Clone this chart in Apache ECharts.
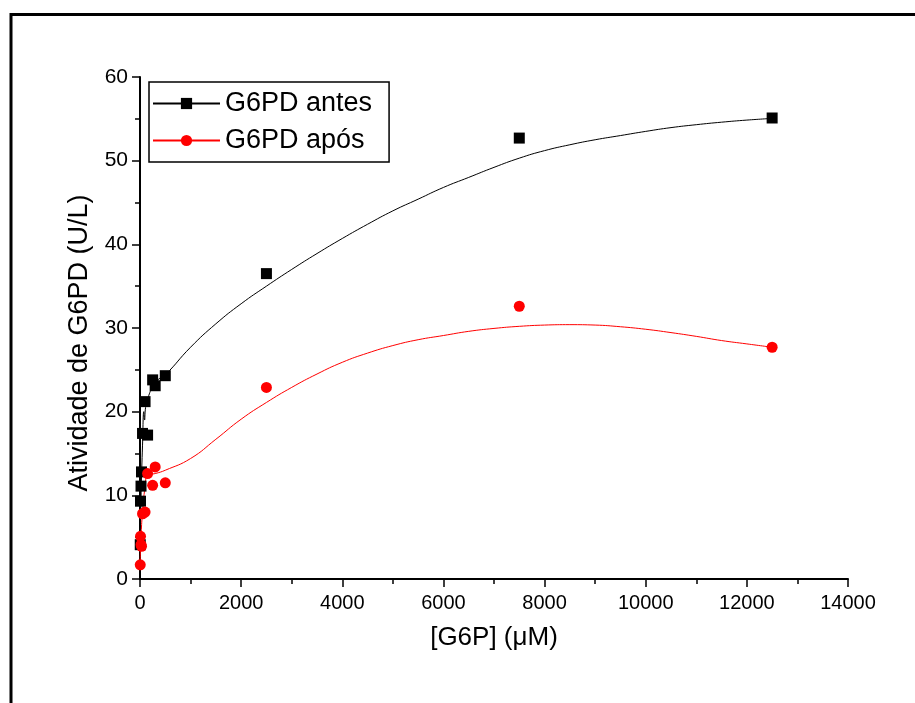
<!DOCTYPE html>
<html>
<head>
<meta charset="utf-8">
<script src="https://cdn.jsdelivr.net/npm/echarts@6/dist/echarts.min.js"></script>
<style>
html,body{margin:0;padding:0;background:#fff;}
#chart{width:915px;height:703px;}
</style>
</head>
<body>
<div id="chart"></div>
<script>
// Measured points
const concX = [5, 10, 20, 30, 50, 100, 150, 250, 300, 500, 2500, 7500, 12500];
const antesY = [4.1, 9.3, 11.1, 12.8, 17.4, 21.2, 17.2, 23.8, 23.1, 24.3, 36.5, 52.7, 55.1];
const aposY  = [1.7, 5.1, 4.1, 3.9, 7.8, 8.0, 12.6, 11.2, 13.4, 11.5, 22.9, 32.6, 27.7];

// Fitted curves
const antesCurveX = [0, 25, 50, 75, 90, 110, 150, 250, 350, 500, 1000, 1500, 2000, 2500, 3000, 3500, 4000, 4500, 5000, 5500, 6000, 6500, 7000, 7500, 8000, 8500, 9000, 9500, 10000, 10500, 11000, 11500, 12000, 12500];
const antesCurveY = [3.5, 11, 16, 20, 19, 20.5, 21.5, 23, 23.8, 24.4, 27.7, 30.5, 32.9, 35.0, 37.0, 38.9, 40.7, 42.4, 44.0, 45.4, 46.8, 48.0, 49.2, 50.3, 51.2, 51.9, 52.5, 53.0, 53.5, 53.95, 54.3, 54.6, 54.85, 55.05];
const aposCurveX = [0, 20, 50, 100, 150, 300, 500, 1000, 1500, 2000, 2500, 3000, 3500, 4000, 4500, 5000, 5500, 6000, 6500, 7000, 7500, 8000, 8500, 9000, 9500, 10000, 10500, 11000, 11500, 12000, 12500];
const aposCurveY = [1.5, 5, 8, 11, 12.4, 12.6, 13.0, 14.4, 16.7, 19.1, 21.1, 22.9, 24.5, 25.9, 27.0, 27.9, 28.6, 29.1, 29.6, 29.95, 30.2, 30.35, 30.4, 30.35, 30.15, 29.85, 29.45, 29.0, 28.5, 28.1, 27.7];

const seriesNames = ['G6PD antes', 'G6PD após'];
const xTitle = '[G6P] (μM)';
const yTitle = 'Atividade de G6PD (U/L)';

const zip = (a, b) => a.map((v, i) => [v, b[i]]);
const FONT = '"Liberation Sans", Arial, sans-serif';

const chart = echarts.init(document.getElementById('chart'), null, {renderer: 'canvas'});
chart.setOption({
  backgroundColor: '#fff',
  animation: false,
  graphic: [{
    type: 'rect', silent: true, z: -1,
    shape: {x: 11, y: 14.5, width: 1000, height: 1000},
    style: {fill: 'none', stroke: '#000', lineWidth: 3}
  }],
  grid: {left: 140, right: 67, top: 77, bottom: 124, containLabel: false},
  legend: {
    left: 149, top: 82,
    orient: 'vertical',
    data: seriesNames,
    itemWidth: 67, itemHeight: 14, itemGap: 10,
    padding: [8, 17, 8, 3],
    borderColor: '#000', borderWidth: 1.5,
    textStyle: {fontFamily: FONT, fontSize: 27, color: '#000'}
  },
  xAxis: {
    type: 'value', min: 0, max: 14000, interval: 2000,
    name: xTitle, nameLocation: 'middle', nameGap: 46,
    nameTextStyle: {fontFamily: FONT, fontSize: 26, color: '#000'},
    axisLine: {lineStyle: {color: '#000', width: 2}},
    axisTick: {inside: false, length: 8, lineStyle: {color: '#000', width: 1.5}},
    minorTick: {show: true, splitNumber: 2, length: 5, lineStyle: {color: '#000', width: 1.5}},
    axisLabel: {fontFamily: FONT, fontSize: 20, color: '#000', margin: 14, formatter: v => String(v)},
    splitLine: {show: false}
  },
  yAxis: {
    type: 'value', min: 0, max: 60, interval: 10,
    name: yTitle, nameLocation: 'middle', nameGap: 47, nameRotate: 90,
    nameTextStyle: {fontFamily: FONT, fontSize: 27, color: '#000', padding: [0, 30, 0, 0]},
    axisLine: {lineStyle: {color: '#000', width: 2}},
    axisTick: {inside: false, length: 8, lineStyle: {color: '#000', width: 1.5}},
    minorTick: {show: true, splitNumber: 2, length: 5, lineStyle: {color: '#000', width: 1.5}},
    axisLabel: {fontFamily: FONT, fontSize: 21, color: '#000', margin: 12},
    splitLine: {show: false}
  },
  series: [
    {
      name: seriesNames[0], type: 'line', data: zip(antesCurveX, antesCurveY),
      smooth: 0.5, showSymbol: false, symbol: 'rect',
      itemStyle: {color: '#000'}, lineStyle: {color: '#000', width: 1}, z: 2
    },
    {
      name: seriesNames[1], type: 'line', data: zip(aposCurveX, aposCurveY),
      smooth: 0.5, showSymbol: false, symbol: 'circle',
      itemStyle: {color: '#ff0000'}, lineStyle: {color: '#ff0000', width: 1}, z: 2
    },
    {
      name: seriesNames[0], type: 'scatter', data: zip(concX, antesY),
      symbol: 'rect', symbolSize: 11, itemStyle: {color: '#000', opacity: 1}, z: 3
    },
    {
      name: seriesNames[1], type: 'scatter', data: zip(concX, aposY),
      symbol: 'circle', symbolSize: 11, itemStyle: {color: '#ff0000', opacity: 1}, z: 4
    }
  ]
});
</script>
</body>
</html>
